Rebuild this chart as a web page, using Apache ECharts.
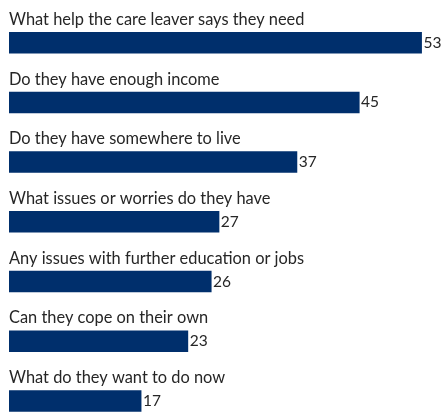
<!DOCTYPE html>
<html>
<head>
<meta charset="utf-8">
<script src="https://cdn.jsdelivr.net/npm/echarts@6/dist/echarts.min.js"></script>
<style>
  html, body { margin: 0; padding: 0; background: #fff; }
  #chart { width: 443px; height: 412px; }
</style>
</head>
<body>
<div id="chart"></div>
<script>
// What the care leaver's review covers, by number of mentions
const categories = [
  'What help the care leaver says they need',
  'Do they have enough income',
  'Do they have somewhere to live',
  'What issues or worries do they have',
  'Any issues with further education or jobs',
  'Can they cope on their own',
  'What do they want to do now'
];
const mentions = [53, 45, 37, 27, 26, 23, 17];

const FONT = 'Lato, "Open Sans", sans-serif';
const TEXT_COLOR = '#262626';
const BAR_COLOR = '#002f6c';

const chart = echarts.init(document.getElementById('chart'), null, { renderer: 'canvas' });

chart.setOption({
  animation: false,
  backgroundColor: '#ffffff',
  // category ticks sit on the grid edges (boundaryGap off), so the first and
  // last bar centres line up with the grid top and bottom
  grid: { left: 9, right: 5.5, top: 42.7, bottom: 11.1, containLabel: false },
  xAxis: {
    type: 'value',
    min: 0,
    max: 55,
    show: false
  },
  yAxis: {
    type: 'category',
    data: categories,
    inverse: true,
    boundaryGap: false,
    axisLine: { show: false },
    axisTick: { show: false },
    splitLine: { show: false },
    axisLabel: {
      inside: true,
      margin: 0,
      align: 'left',
      verticalAlign: 'bottom',
      padding: [0, 0, 15, 0],
      fontFamily: FONT,
      fontSize: 16.4,
      color: TEXT_COLOR
    }
  },
  series: [{
    type: 'bar',
    data: mentions,
    barWidth: 21.5,
    itemStyle: { color: BAR_COLOR },
    label: {
      show: true,
      position: 'right',
      distance: 1.5,
      fontFamily: FONT,
      fontSize: 15.5,
      color: TEXT_COLOR
    }
  }]
});
</script>
</body>
</html>
